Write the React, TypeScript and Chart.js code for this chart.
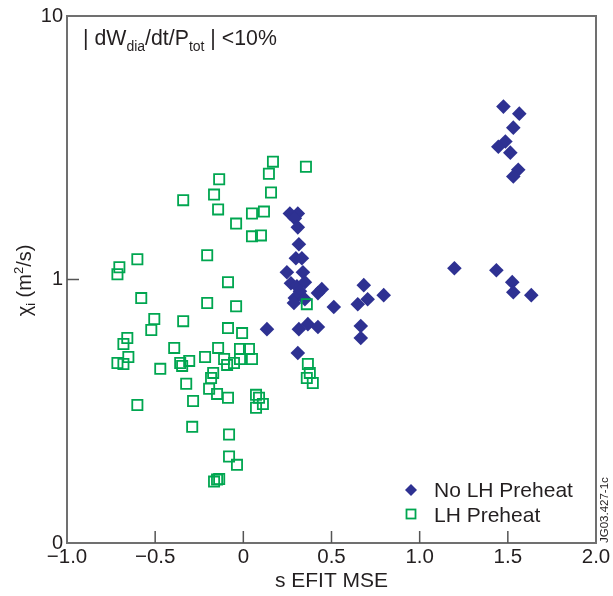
import React, { useEffect, useRef } from "react";
import { Chart, registerables } from "chart.js";
Chart.register(...registerables);

// ---- data ----
const noLhX = [1.475, 1.565, 1.531, 1.486, 1.446, 1.514, 1.559, 1.531, 1.197, 1.435, 1.525, 1.531, 1.633, 0.683, 0.705, 0.649, 0.796, 0.513, 0.445, 0.423, 0.264, 0.309, 0.292, 0.309, 0.315, 0.298, 0.332, 0.247, 0.338, 0.27, 0.304, 0.349, 0.321, 0.292, 0.287, 0.349, 0.134, 0.315, 0.366, 0.423, 0.666, 0.666, 0.309];
const noLhY = [4.53, 4.26, 3.77, 3.34, 3.19, 3.03, 2.61, 2.46, 1.104, 1.084, 0.977, 0.895, 0.872, 0.952, 0.842, 0.806, 0.872, 0.786, 0.919, 0.888, 1.78, 1.78, 1.706, 1.577, 1.36, 1.204, 1.204, 1.066, 1.066, 0.968, 0.943, 0.977, 0.903, 0.85, 0.814, 0.842, 0.648, 0.648, 0.677, 0.66, 0.666, 0.6, 0.526];

const lhX = [0.168, 0.355, 0.145, -0.137, -0.166, 0.157, -0.341, -0.143, 0.049, 0.117, -0.041, 0.049, 0.1, -0.205, -0.601, -0.703, -0.714, -0.087, -0.579, -0.205, -0.041, -0.505, -0.341, -0.522, -0.087, -0.007, -0.658, -0.68, -0.392, -0.143, -0.019, 0.032, 0.36, -0.652, -0.714, -0.68, -0.471, -0.358, -0.307, -0.347, -0.217, -0.109, -0.092, -0.053, -0.019, 0.049, -0.171, -0.183, -0.324, -0.194, -0.149, -0.087, -0.285, -0.601, 0.072, 0.089, 0.111, 0.072, -0.29, -0.081, -0.081, -0.036, -0.166, -0.149, -0.137, 0.366, 0.377, 0.36, 0.394];
const lhY = [2.8, 2.68, 2.52, 2.4, 2.1, 2.14, 2.0, 1.845, 1.78, 1.81, 1.63, 1.458, 1.47, 1.236, 1.193, 1.113, 1.047, 0.977, 0.85, 0.814, 0.792, 0.708, 0.695, 0.643, 0.654, 0.626, 0.6, 0.569, 0.55, 0.55, 0.545, 0.545, 0.806, 0.508, 0.482, 0.478, 0.458, 0.482, 0.491, 0.47, 0.508, 0.499, 0.474, 0.482, 0.499, 0.499, 0.442, 0.423, 0.402, 0.385, 0.368, 0.356, 0.346, 0.334, 0.365, 0.356, 0.337, 0.326, 0.276, 0.258, 0.213, 0.198, 0.171, 0.174, 0.175, 0.478, 0.442, 0.423, 0.405];

const xTicks = [-1, -0.5, 0, 0.5, 1, 1.5, 2];
const xTickLabels = ["\u22121.0", "\u22120.5", "0", "0.5", "1.0", "1.5", "2.0"];
const yTicks = [0.1, 1, 10];
const yTickLabels = ["0", "1", "10"];

const seriesNames = ["No LH Preheat", "LH Preheat"];

const FONT = "'Liberation Sans', Arial, Helvetica, sans-serif";
const BLUE = "#2e3192";
const GREEN = "#00a650";
const TEXT = "#231f20";

type Part = [string, number, number];

function drawRich(ctx: CanvasRenderingContext2D, x: number, y: number, parts: Part[]) {
  for (const [t, s, dy] of parts) {
    ctx.font = `${s}px ${FONT}`;
    ctx.fillText(t, x, y + dy);
    x += ctx.measureText(t).width;
  }
}
function richWidth(ctx: CanvasRenderingContext2D, parts: Part[]) {
  let w = 0;
  for (const [t, s] of parts) {
    ctx.font = `${s}px ${FONT}`;
    w += ctx.measureText(t).width;
  }
  return w;
}

const decor = {
  id: "decor",
  afterDraw(chart: any) {
    const { ctx, chartArea: a, scales } = chart;
    const xs = scales.x;
    const ys = scales.y;
    ctx.save();
    // frame
    ctx.strokeStyle = "#707070";
    ctx.lineWidth = 2;
    ctx.strokeRect(a.left, a.top, a.right - a.left, a.bottom - a.top);
    // inward ticks
    ctx.beginPath();
    ctx.lineWidth = 1.5;
    ctx.strokeStyle = "#555";
    for (const v of xTicks.slice(1, -1)) {
      const px = xs.getPixelForValue(v);
      ctx.moveTo(px, a.bottom);
      ctx.lineTo(px, a.bottom - 12);
    }
    const py = ys.getPixelForValue(1);
    ctx.moveTo(a.left, py);
    ctx.lineTo(a.left + 12, py);
    ctx.stroke();

    ctx.fillStyle = TEXT;
    ctx.textBaseline = "alphabetic";
    ctx.textAlign = "left";
    // annotation
    drawRich(ctx, 83, 44.5, [
      ["| dW", 21.3, 0],
      ["dia", 14, 6],
      ["/dt/P", 21.3, 0],
      ["tot", 14, 6],
      [" | <10%", 21.3, 0],
    ]);

    // x title
    ctx.font = `21px ${FONT}`;
    ctx.textAlign = "center";
    ctx.fillText("s EFIT MSE", (a.left + a.right) / 2, 587);
    ctx.textAlign = "left";

    // y title (rotated)
    const yParts: Part[] = [
      ["\u03c7", 20, 0],
      ["i", 13, 4],
      [" (m", 20, 0],
      ["2", 13, -8],
      ["/s)", 20, 0],
    ];
    ctx.save();
    ctx.translate(31, 280.5);
    ctx.rotate(-Math.PI / 2);
    const w = richWidth(ctx, yParts);
    drawRich(ctx, -w / 2, 0, yParts);
    ctx.restore();

    // figure id
    ctx.save();
    ctx.translate(608, 543);
    ctx.rotate(-Math.PI / 2);
    ctx.font = `11.5px ${FONT}`;
    ctx.fillText("JG03.427-1c", 0, 0);
    ctx.restore();

    // legend
    const lx = 411;
    const d = 6;
    ctx.fillStyle = BLUE;
    ctx.beginPath();
    ctx.moveTo(lx - d, 490);
    ctx.lineTo(lx, 490 - d);
    ctx.lineTo(lx + d, 490);
    ctx.lineTo(lx, 490 + d);
    ctx.closePath();
    ctx.fill();
    ctx.strokeStyle = GREEN;
    ctx.lineWidth = 1.8;
    ctx.strokeRect(lx - 4.5, 514 - 4.5, 9, 9);
    ctx.fillStyle = TEXT;
    ctx.font = `21px ${FONT}`;
    ctx.fillText(seriesNames[0], 434, 497);
    ctx.fillText(seriesNames[1], 434, 522);
    ctx.restore();
  },
};

export default function App() {
  const ref = useRef<HTMLCanvasElement>(null);
  useEffect(() => {
    Chart.defaults.font.family = FONT;
    const chart = new Chart(ref.current as HTMLCanvasElement, {
      type: "scatter",
      data: {
        datasets: [
          {
            label: seriesNames[0],
            data: noLhX.map((x, i) => ({ x, y: noLhY[i] })),
            pointStyle: "rectRot",
            pointRadius: 7.3,
            pointHoverRadius: 7.3,
            backgroundColor: BLUE,
            borderColor: BLUE,
            borderWidth: 0,
            order: 2,
          },
          {
            label: seriesNames[1],
            data: lhX.map((x, i) => ({ x, y: lhY[i] })),
            pointStyle: "rect",
            pointRadius: 7.2,
            pointHoverRadius: 7.2,
            backgroundColor: "rgba(0,0,0,0)",
            borderColor: GREEN,
            borderWidth: 1.8,
            order: 1,
          },
        ],
      },
      options: {
        animation: false,
        responsive: false,
        devicePixelRatio: 1,
        layout: { padding: { left: 0, right: 17, top: 14, bottom: 0 } },
        plugins: { legend: { display: false }, tooltip: { enabled: false } },
        scales: {
          x: {
            type: "linear",
            min: -1,
            max: 2,
            grid: { display: false, drawTicks: false },
            border: { display: false },
            afterFit: (s: any) => {
              s.height = 53;
            },
            afterBuildTicks: (s: any) => {
              s.ticks = xTicks.map((v) => ({ value: v }));
            },
            ticks: {
              autoSkip: false,
              maxRotation: 0,
              padding: 2,
              color: TEXT,
              font: { size: 20.5, family: FONT },
              callback: (_v: any, i: number) => xTickLabels[i],
            },
          },
          y: {
            type: "logarithmic",
            min: 0.1,
            max: 10,
            grid: { display: false, drawTicks: false },
            border: { display: false },
            afterFit: (s: any) => {
              s.width = 67;
            },
            afterBuildTicks: (s: any) => {
              s.ticks = yTicks.map((v) => ({ value: v }));
            },
            ticks: {
              autoSkip: false,
              padding: 4,
              color: TEXT,
              font: { size: 20, family: FONT },
              callback: (_v: any, i: number) => yTickLabels[i],
            },
          },
        },
      },
      plugins: [decor],
    } as any);
    return () => chart.destroy();
  }, []);
  return (
    <div style={{ position: "absolute", left: 0, top: 0, width: 613, height: 596, background: "#fff" }}>
      <canvas ref={ref} width={613} height={596} style={{ display: "block", width: 613, height: 596 }} />
    </div>
  );
}
